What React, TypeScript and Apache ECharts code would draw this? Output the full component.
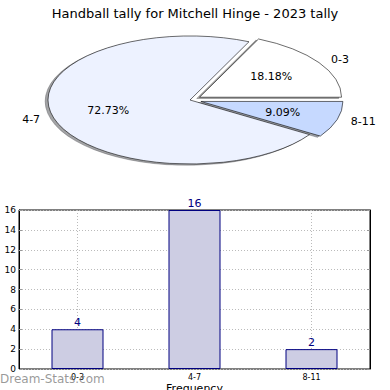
import React, { useEffect, useRef } from "react";
import * as echarts from "echarts";

const chartTitle = "Handball tally for Mitchell Hinge - 2023 tally";
const categories = ["0-3", "4-7", "8-11"];
const counts = [4, 16, 2];
const pieColors = ["#ffffff", "#edf2ff", "#c6d9ff"];
const explode = [0.08, 0, 0.08];
const yMax = 16;
const yInterval = 2;
const xAxisName = "Frequency";
const yAxisName = "Total Tally";
const watermark = "Dream-Stats.com";

const FONT = "DejaVu Sans";
const CX = 190;
const CY = 100;
const RX = 142;
const RY = 64;

const total = counts.reduce((a, b) => a + b, 0);

function geom(i: number) {
  let before = 0;
  for (let k = 0; k < i; k++) before += counts[k];
  const s = (before / total) * Math.PI * 2;
  const e = ((before + counts[i]) / total) * Math.PI * 2;
  const mid = (s + e) / 2;
  const ox = explode[i] * RX * Math.cos(mid);
  const oy = -explode[i] * RY * Math.sin(mid);
  return { s, e, mid, ox, oy };
}

function hexToRgb(h: string) {
  const n = parseInt(h.slice(1), 16);
  return [(n >> 16) & 255, (n >> 8) & 255, n & 255];
}

function sectorGroup(x: number, y: number, s: number, e: number, style: any) {
  return {
    type: "group",
    x,
    y,
    scaleY: RY / RX,
    children: [
      {
        type: "sector",
        shape: { cx: 0, cy: 0, r: RX, r0: 0, startAngle: -s, endAngle: -e, clockwise: false },
        style: { ...style, strokeNoScale: true },
      },
    ],
  };
}

export default function App() {
  const ref = useRef<HTMLDivElement>(null);
  useEffect(() => {
    if (!ref.current) return;
    const chart = echarts.init(ref.current, null, { renderer: "svg" });
    const option: any = {
      animation: false,
      title: {
        text: chartTitle,
        left: "center",
        top: 2,
        textStyle: { fontFamily: FONT, fontSize: 13, fontWeight: "normal", color: "#000" },
      },
      grid: {
        left: 19,
        right: 20,
        top: 210,
        bottom: 21,
        containLabel: false,
        outerBoundsMode: "none",
        show: true,
        borderColor: "#000",
        borderWidth: 1,
        backgroundColor: "transparent",
      },
      xAxis: [
        {
          type: "category",
          data: categories,
          axisLine: { show: false },
          axisTick: { show: false },
          axisLabel: { fontFamily: FONT, fontSize: 8, color: "#000", margin: 4 },
          splitLine: { show: false },
          name: xAxisName,
          nameLocation: "middle",
          nameGap: 14,
          nameTextStyle: { fontFamily: FONT, fontSize: 11, color: "#000" },
        },
        {
          type: "value",
          min: 0,
          max: categories.length * 2,
          interval: 1,
          position: "bottom",
          axisLine: { show: false },
          axisTick: { show: false },
          axisLabel: { show: false },
          splitLine: { show: true, lineStyle: { color: ["rgba(0,0,0,0)", "#bbbbbb"], type: [1, 2], width: 1 } },
        },
      ],
      yAxis: [
        {
          type: "value",
          min: 0,
          max: yMax,
          interval: yInterval,
          axisLine: { show: true, lineStyle: { color: "#000" } },
          axisTick: { show: true, inside: true, length: 3, lineStyle: { color: "#999" } },
          axisLabel: { fontFamily: FONT, fontSize: 9, color: "#000", margin: 3 },
          splitLine: { show: true, lineStyle: { color: "#bbbbbb", type: [1, 2], width: 1 } },
          name: yAxisName,
          nameLocation: "middle",
          nameGap: 15,
          nameRotate: 90,
          nameTextStyle: { fontFamily: FONT, fontSize: 10, color: "#000" },
        },
        {
          type: "value",
          min: 0,
          max: yMax,
          interval: yInterval,
          position: "right",
          axisLine: { show: true, lineStyle: { color: "#000" } },
          axisTick: { show: true, inside: true, length: 3, lineStyle: { color: "#999" } },
          axisLabel: { show: false },
          splitLine: { show: false },
        },
      ],
      graphic: [
        {
          type: "text",
          left: 0,
          top: 373,
          z: 100,
          style: { text: watermark, fill: "rgba(120,120,120,0.75)", fontFamily: FONT, fontSize: 12 },
        },
      ],
      series: [
        {
          type: "custom",
          coordinateSystem: "none",
          data: counts,
          z: 1,
          renderItem: (params: any) => {
            const i = params.dataIndex;
            const g = geom(i);
            const [r, gg, b] = hexToRgb(pieColors[i]);
            const c = `rgba(${Math.round(r * 0.3)},${Math.round(gg * 0.3)},${Math.round(b * 0.3)},0.5)`;
            return sectorGroup(CX + g.ox - 0.02 * RX, CY + g.oy + 0.02 * RY, g.s, g.e, { fill: c, stroke: c, lineWidth: 1 });
          },
        },
        {
          type: "custom",
          coordinateSystem: "none",
          data: counts,
          z: 2,
          renderItem: (params: any) => {
            const i = params.dataIndex;
            const g = geom(i);
            const px = CX + g.ox;
            const py = CY + g.oy;
            const cosm = Math.cos(g.mid);
            const sinm = Math.sin(g.mid);
            return {
              type: "group",
              children: [
                sectorGroup(px, py, g.s, g.e, { fill: pieColors[i], stroke: "#000", lineWidth: 0.8 }),
                {
                  type: "text",
                  style: {
                    text: categories[i],
                    x: px + 1.1 * RX * cosm,
                    y: py - 1.1 * RY * sinm,
                    align: cosm >= 0 ? "left" : "right",
                    verticalAlign: "middle",
                    fill: "#000",
                    fontFamily: FONT,
                    fontSize: 11,
                  },
                },
                {
                  type: "text",
                  style: {
                    text: ((counts[i] / total) * 100).toFixed(2) + "%",
                    x: px + 0.6 * RX * cosm,
                    y: py - 0.6 * RY * sinm,
                    align: "center",
                    verticalAlign: "middle",
                    fill: "#000",
                    fontFamily: FONT,
                    fontSize: 11,
                  },
                },
              ],
            };
          },
        },
        {
          type: "bar",
          xAxisIndex: 0,
          yAxisIndex: 0,
          data: counts,
          barWidth: 52,
          itemStyle: { color: "#cdcde3", borderColor: "#000080", borderWidth: 1 },
          label: { show: true, position: "top", distance: 1, color: "#000080", fontFamily: FONT, fontSize: 11 },
        },
      ],
    };
    chart.setOption(option);
    return () => chart.dispose();
  }, []);
  return <div ref={ref} style={{ position: "fixed", left: 0, top: 0, width: 390, height: 390, background: "#fff" }} />;
}
